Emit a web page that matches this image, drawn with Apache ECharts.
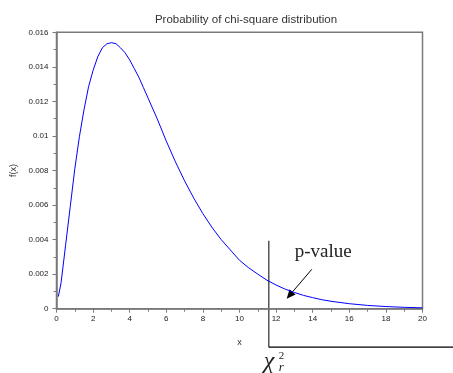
<!DOCTYPE html>
<html>
<head>
<meta charset="utf-8">
<script src="https://cdn.jsdelivr.net/npm/echarts@6/dist/echarts.min.js"></script>
<style>
  html, body { margin: 0; padding: 0; background: #fff; }
  #chart { width: 453px; height: 373px; }
</style>
</head>
<body>
<div id="chart"></div>
<script>
// values
var xValues = [0.1, 0.25, 0.5, 0.75, 1, 1.25, 1.5, 1.75, 2, 2.25, 2.5, 2.75, 3, 3.25, 3.5, 3.75, 4, 4.25, 4.5, 4.75, 5, 5.5, 6, 6.5, 7, 7.5, 8, 8.5, 9, 9.5, 10, 10.5, 11, 11.5, 12, 12.5, 13, 13.5, 14, 14.5, 15, 16, 17, 18, 19, 20];
var fValues = [0.0007, 0.0015, 0.0037, 0.0059, 0.0081, 0.00995, 0.0115, 0.01284, 0.0138, 0.01457, 0.0151, 0.01533, 0.0154, 0.01534, 0.0151, 0.01481, 0.0144, 0.0139, 0.0134, 0.0128, 0.0122, 0.011, 0.0097, 0.0085, 0.0074, 0.0064, 0.0055, 0.0047, 0.004, 0.0034, 0.0028, 0.00237, 0.002, 0.00165, 0.00137, 0.00113, 0.00094, 0.00077, 0.00064, 0.00052, 0.00043, 0.00029, 0.00019, 0.000125, 0.00008, 0.00005];
var xTicks = [0, 2, 4, 6, 8, 10, 12, 14, 16, 18, 20];
var yTicks = [0, 0.002, 0.004, 0.006, 0.008, 0.01, 0.012, 0.014, 0.016];
var chiR = 11.6;          // critical value marker
var arrowFrom = [13.95, 0.00228];
var arrowTo = [12.58, 0.00058];

var chartDom = document.getElementById("chart");
var myChart = echarts.init(chartDom);

var axisGray = "#7a7a7a";
var labelFont = "Liberation Sans, Arial, sans-serif";
var serif = "Liberation Serif, DejaVu Serif, serif";

var option = {
  animation: false,
  title: {
    text: "Probability of chi-square distribution",
    left: 241,
    textAlign: "center",
    top: 9,
    textStyle: { fontSize: 11.5, fontWeight: "normal", color: "#333", fontFamily: labelFont },
  },
  grid: {
    left: 56.5,
    right: 30.5,
    top: 32.3,
    bottom: 64.3,
    show: true,
    borderColor: axisGray,
    borderWidth: 1.5,
  },
  xAxis: {
    type: "value",
    min: xTicks[0],
    max: xTicks[xTicks.length - 1],
    interval: 2,
    name: "x",
    nameLocation: "middle",
    nameGap: 29,
    nameTextStyle: { fontSize: 9, color: "#333", fontFamily: labelFont },
    axisLine: { show: true, lineStyle: { color: axisGray, width: 1.5 } },
    axisTick: { show: true, length: 4, lineStyle: { color: axisGray } },
    minorTick: { show: true, splitNumber: 2, length: 3, lineStyle: { color: axisGray } },
    splitLine: { show: false },
    axisLabel: { fontSize: 8, color: "#222", margin: 6, fontFamily: labelFont },
  },
  yAxis: {
    type: "value",
    min: yTicks[0],
    max: yTicks[yTicks.length - 1],
    interval: 0.002,
    name: "f(x)",
    nameLocation: "middle",
    nameGap: 35,
    nameRotate: 90,
    nameTextStyle: { fontSize: 9, color: "#333", fontFamily: labelFont },
    axisLine: { show: true, lineStyle: { color: axisGray, width: 1.5 } },
    axisTick: { show: true, length: 4, lineStyle: { color: axisGray } },
    minorTick: { show: true, splitNumber: 2, length: 3, lineStyle: { color: axisGray } },
    splitLine: { show: false },
    axisLabel: {
      fontSize: 8,
      color: "#222",
      margin: 8,
      fontFamily: labelFont,
      formatter: function (v) { return String(+v.toFixed(3)); },
    },
  },
  series: [
    {
      type: "line",
      data: xValues.map(function (x, i) { return [x, fValues[i]]; }),
      showSymbol: false,
      lineStyle: { color: "#0000ff", width: 1 },
    },
  ],
};

myChart.setOption(option);

// annotations, placed through the chart's own scales
var markTop = myChart.convertToPixel({ gridIndex: 0 }, [chiR, 0.00394]);
var markBase = myChart.convertToPixel({ gridIndex: 0 }, [chiR, 0]);
var a0 = myChart.convertToPixel({ gridIndex: 0 }, arrowFrom);
var a1 = myChart.convertToPixel({ gridIndex: 0 }, arrowTo);
var lineBottom = markBase[1] + 38.5;
var mx = markTop[0];

var ang = Math.atan2(a1[1] - a0[1], a1[0] - a0[0]);
var headLen = 9, headW = 4;
var bx = a1[0] - headLen * Math.cos(ang), by = a1[1] - headLen * Math.sin(ang);
var px = -Math.sin(ang) * headW, py = Math.cos(ang) * headW;

myChart.setOption({
  graphic: [
    {
      type: "line",
      shape: { x1: mx, y1: markTop[1], x2: mx, y2: lineBottom },
      style: { stroke: "#555", lineWidth: 1.5 },
    },
    {
      type: "line",
      shape: { x1: mx, y1: lineBottom, x2: 453, y2: lineBottom },
      style: { stroke: "#000", lineWidth: 1.3 },
    },
    {
      type: "line",
      shape: { x1: a0[0], y1: a0[1], x2: bx, y2: by },
      style: { stroke: "#000", lineWidth: 1 },
    },
    {
      type: "polygon",
      shape: { points: [[a1[0], a1[1]], [bx + px, by + py], [bx - px, by - py]] },
      style: { fill: "#000" },
    },
    {
      type: "text",
      x: mx + 26,
      y: markTop[1] + 2,
      style: { text: "p-value", fontSize: 19, fill: "#222", fontFamily: serif },
    },
    {
      type: "text",
      x: mx - 5,
      y: lineBottom + 2,
      style: { text: "χ", fontSize: 24, fontStyle: "italic", fontFamily: serif, fill: "#222" },
    },
    {
      type: "text",
      x: mx + 10,
      y: lineBottom + 3,
      style: { text: "2", fontSize: 11, fontFamily: serif, fill: "#222" },
    },
    {
      type: "text",
      x: mx + 10,
      y: lineBottom + 14,
      style: { text: "r", fontSize: 13, fontStyle: "italic", fontFamily: serif, fill: "#222" },
    },
  ],
});
</script>
</body>
</html>
